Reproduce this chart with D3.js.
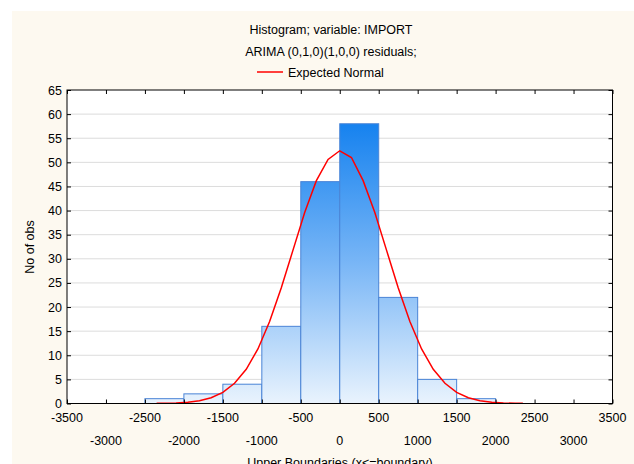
<!DOCTYPE html>
<html><head><meta charset="utf-8">
<script src="https://cdn.jsdelivr.net/npm/d3@7"></script>
<style>body{margin:0;background:#fff;}svg{display:block;font-family:"Liberation Sans",Arial,sans-serif;}</style>
</head><body>
<svg id="c" width="634" height="464"></svg>
<script>
const binStarts = [-2500,-2000,-1500,-1000,-500,0,500,1000,1500];
const binEnds   = [-2000,-1500,-1000,-500,0,500,1000,1500,2000];
const counts    = [1,2,4,16,46,58,22,5,1];
const normalX = [-2350,-2250,-2100,-1950,-1800,-1650,-1500,-1350,-1200,-1050,-900,-750,-600,-450,-300,-150,0,150,300,450,600,750,900,1050,1200,1350,1500,1650,1800,1950,2100,2250,2350];
const normalY = [0.04,0.05,0.11,0.27,0.58,1.2,2.3,4.2,7.1,11.3,17.0,24.0,31.8,39.6,46.2,50.6,52.4,51.0,46.2,39.6,31.8,24.0,17.0,11.3,7.1,4.2,2.3,1.2,0.58,0.27,0.11,0.05,0.04];
const xTicks = [-3500,-3000,-2500,-2000,-1500,-1000,-500,0,500,1000,1500,2000,2500,3000,3500];
const yTicks = [0,5,10,15,20,25,30,35,40,45,50,55,60,65];
const titleLines = ["Histogram; variable: IMPORT","ARIMA (0,1,0)(1,0,0) residuals;"];
const legendLabel = "Expected Normal";
const xTitle = "Upper Boundaries (x<=boundary)";
const yTitle = "No of obs";

const FS = 12.5;
const svg = d3.select("#c");
const L=67, R=612.5, T=90, B=403.5;
const x = d3.scaleLinear().domain([-3500,3500]).range([L,R]);
const y = d3.scaleLinear().domain([0,65]).range([B,T]);

svg.append("rect").attr("x",12).attr("y",11).attr("width",622).attr("height",453).attr("fill","#fdf9f0");
svg.append("rect").attr("x",L).attr("y",T).attr("width",R-L).attr("height",B-T).attr("fill","#fff");

const defs = svg.append("defs");
const g = defs.append("linearGradient").attr("id","bg").attr("gradientUnits","userSpaceOnUse")
  .attr("x1",0).attr("x2",0).attr("y1",y(58)).attr("y2",y(0));
g.append("stop").attr("offset","0").attr("stop-color","#1682ef");
g.append("stop").attr("offset","0.5").attr("stop-color","#79b6f6");
g.append("stop").attr("offset","1").attr("stop-color","#e9f3fd");

// gridlines
svg.append("g").selectAll("line").data(yTicks.filter(d=>d>0&&d<65)).join("line")
  .attr("x1",L).attr("x2",R).attr("y1",d=>y(d)).attr("y2",d=>y(d))
  .attr("stroke","#dcdcdc").attr("stroke-width",1);

// bars
svg.append("g").selectAll("rect").data(counts).join("rect")
  .attr("x",(d,i)=>x(binStarts[i])).attr("width",(d,i)=>x(binEnds[i])-x(binStarts[i]))
  .attr("y",d=>y(d)).attr("height",d=>y(0)-y(d))
  .attr("fill","url(#bg)").attr("stroke","#4a84d6").attr("stroke-width",1);

// normal curve
svg.append("path").datum(normalX.map((v,i)=>[v,normalY[i]]))
  .attr("d",d3.line().x(d=>x(d[0])).y(d=>y(d[1])))
  .attr("fill","none").attr("stroke","#ff0000").attr("stroke-width",1.5);

// frame
svg.append("rect").attr("x",L).attr("y",T).attr("width",R-L).attr("height",B-T)
  .attr("fill","none").attr("stroke","#000").attr("stroke-width",1);

// axes
const xb = svg.append("g").attr("transform",`translate(0,${B})`)
  .call(d3.axisBottom(x).tickValues(xTicks).tickSizeInner(-4).tickSizeOuter(0).tickFormat(""));
const xt = svg.append("g").attr("transform",`translate(0,${T})`)
  .call(d3.axisTop(x).tickValues(xTicks).tickSizeInner(-4).tickSizeOuter(0).tickFormat(""));
const yl = svg.append("g").attr("transform",`translate(${L},0)`)
  .call(d3.axisLeft(y).tickValues(yTicks).tickSizeInner(-4).tickSizeOuter(0).tickFormat(""));
const yr = svg.append("g").attr("transform",`translate(${R},0)`)
  .call(d3.axisRight(y).tickValues(yTicks).tickSizeInner(-4).tickSizeOuter(0).tickFormat(""));
[xb,xt,yl,yr].forEach(a=>{a.select(".domain").remove();a.selectAll("line").attr("stroke","#000");});

// x labels staggered
svg.append("g").selectAll("text").data(xTicks).join("text")
  .attr("x",d=>x(d)).attr("y",(d,i)=>i%2===0?422:445)
  .attr("text-anchor","middle").attr("font-size",FS).attr("fill","#000").text(d=>d);

// y labels
svg.append("g").selectAll("text").data(yTicks).join("text")
  .attr("x",L-5).attr("y",d=>y(d)+4.5)
  .attr("text-anchor","end").attr("font-size",FS).attr("fill","#000").text(d=>d);

// titles
svg.selectAll(".t").data(titleLines).join("text")
  .attr("x",331).attr("y",(d,i)=>34+i*21.5)
  .attr("text-anchor","middle").attr("font-size",FS).attr("fill","#000").text(d=>d);
svg.append("line").attr("x1",257).attr("x2",283).attr("y1",72).attr("y2",72)
  .attr("stroke","#ff0000").attr("stroke-width",1.5);
svg.append("text").attr("x",288).attr("y",76.5).attr("font-size",FS).attr("fill","#000").text(legendLabel);

svg.append("text").attr("x",340).attr("y",467).attr("text-anchor","middle").attr("font-size",FS).attr("fill","#000").text(xTitle);
svg.append("text").attr("transform","translate(34,247) rotate(-90)").attr("text-anchor","middle")
  .attr("font-size",FS).attr("fill","#000").text(yTitle);
</script>
</body></html>
